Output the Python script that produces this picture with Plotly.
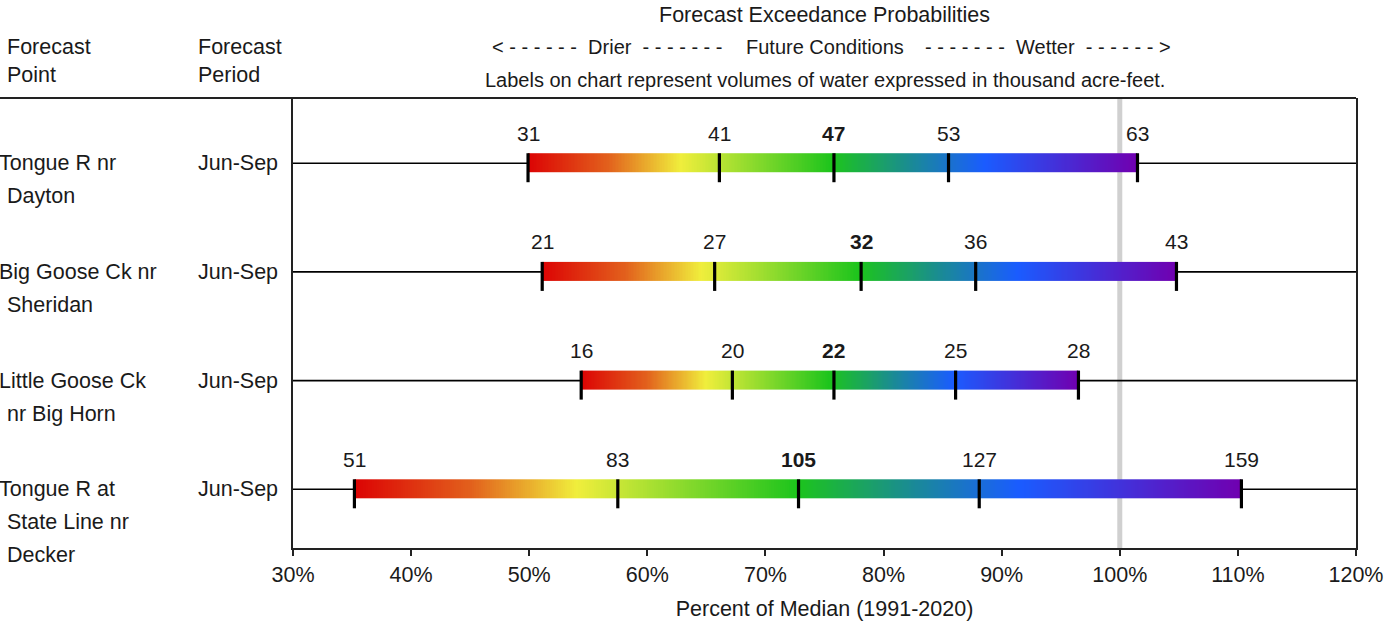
import numpy as np
import plotly.graph_objects as go

# ---------------- data ----------------
point_lines = [["Tongue R nr", "Dayton"],
               ["Big Goose Ck nr", "Sheridan"],
               ["Little Goose Ck", "nr Big Horn"],
               ["Tongue R at", "State Line nr", "Decker"]]
periods = ["Jun-Sep", "Jun-Sep", "Jun-Sep", "Jun-Sep"]

# percent of median at the 90/70/50/30/10 % exceedance levels
pct_90 = [49.9, 51.1, 54.4, 35.2]
pct_70 = [66.1, 65.7, 67.2, 57.5]
pct_50 = [75.8, 78.1, 75.8, 72.8]
pct_30 = [85.5, 87.8, 86.1, 88.1]
pct_10 = [101.5, 104.8, 96.5, 110.3]

# volumes (thousand acre-feet)
vol_90 = [31, 21, 16, 51]
vol_70 = [41, 27, 20, 83]
vol_50 = [47, 32, 22, 105]
vol_30 = [53, 36, 25, 127]
vol_10 = [63, 43, 28, 159]

x_ticks = [30, 40, 50, 60, 70, 80, 90, 100, 110, 120]
x_tick_labels = [f"{v}%" for v in x_ticks]

# ---------------- styling ----------------
FONT = "Liberation Sans, Arial, sans-serif"
TXT = "#1a1a1a"
FS = 21.5
W, H = 1384, 625
ML, MR, MT, MB = 293, 28, 98, 77
PW, PH = W - ML - MR, H - MT - MB
YR = (3.54, -0.6)
UPX = (YR[0] - YR[1]) / PH  # data units per pixel

grad = [[0.0, "#dc0404"], [0.13, "#e2601c"], [0.25, "#f0ee3c"],
        [0.5, "#1cc41c"], [0.63, "#1a8a96"], [0.75, "#1a5cff"],
        [1.0, "#7000b0"]]

fig = go.Figure()

rows = list(range(len(point_lines)))
for r in rows:
    lo, hi = pct_90[r], pct_10[r]
    # baseline outside the bar
    fig.add_trace(go.Scatter(x=[x_ticks[0], lo, None, hi, x_ticks[-1]], y=[r, r, None, r, r],
                             mode="lines", line=dict(color="black", width=1.6),
                             hoverinfo="skip", showlegend=False))
    n = 400
    xe = np.linspace(lo, hi, n + 1)
    fig.add_trace(go.Heatmap(x=xe, y=[r - 10 * UPX, r + 9 * UPX],
                             z=[np.linspace(0, 1, n)], zmin=0, zmax=1,
                             colorscale=grad, showscale=False, hoverinfo="skip"))

fig.add_shape(type="line", x0=100, x1=100, y0=0, y1=1, xref="x", yref="paper",
              line=dict(color="#d0d0d0", width=5), layer="below")

tx, ty = [], []
for r in rows:
    for v in (pct_90[r], pct_70[r], pct_50[r], pct_30[r], pct_10[r]):
        tx += [v, v, None]
        ty += [r - 10 * UPX, r + 19 * UPX, None]
fig.add_trace(go.Scatter(x=tx, y=ty, mode="lines", line=dict(color="black", width=3.2),
                         hoverinfo="skip", showlegend=False))

ann = []
for r in rows:
    pairs = [(pct_90[r], vol_90[r], False), (pct_70[r], vol_70[r], False),
             (pct_50[r], vol_50[r], True), (pct_30[r], vol_30[r], False),
             (pct_10[r], vol_10[r], False)]
    for p, v, b in pairs:
        ann.append(dict(x=p, y=r, xref="x", yref="y", yshift=30, yanchor="middle",
                        text=f"<b>{v}</b>" if b else str(v), showarrow=False,
                        font=dict(size=21, color=TXT, family=FONT)))

def px_x(px):
    return (px - ML) / PW

def px_y(py):
    return (MT + PH - py) / PH

for r in rows:
    for i, line in enumerate(point_lines[r]):
        ann.append(dict(x=px_x(-3 if i == 0 else 5), xref="paper", y=r, yref="y",
                        yshift=-33 * i, text=line, showarrow=False, xanchor="left",
                        yanchor="middle", font=dict(size=FS, color=TXT, family=FONT)))
    ann.append(dict(x=px_x(196), xref="paper", y=r, yref="y", text=periods[r],
                    showarrow=False, xanchor="left", yanchor="middle",
                    font=dict(size=FS, color=TXT, family=FONT)))

hdr = [("Forecast", 5, 47), ("Point", 5, 75), ("Forecast", 196, 47), ("Period", 196, 75)]
for t, x, y in hdr:
    ann.append(dict(x=px_x(x), y=px_y(y), xref="paper", yref="paper", text=t,
                    showarrow=False, xanchor="left", yanchor="middle",
                    font=dict(size=FS, color=TXT, family=FONT)))
NB = "\u00a0"
ann.append(dict(x=0.5, y=px_y(15), xref="paper", yref="paper", yanchor="middle",
                text="Forecast Exceedance Probabilities", showarrow=False,
                font=dict(size=FS, color=TXT, family=FONT)))
left = "<" + (NB + "-") * 6 + NB * 2 + "Drier" + NB + (NB + "-") * 7
right = ("-" + NB) * 7 + NB + "Wetter" + NB * 2 + ("-" + NB) * 6 + ">"
ann.append(dict(x=px_x(725), y=px_y(47), xref="paper", yref="paper", text=left,
                showarrow=False, xanchor="right", yanchor="middle",
                font=dict(size=20, color=TXT, family=FONT)))
ann.append(dict(x=0.5, y=px_y(47), xref="paper", yref="paper",
                text="Future Conditions", showarrow=False, yanchor="middle",
                font=dict(size=20, color=TXT, family=FONT)))
ann.append(dict(x=px_x(923), y=px_y(47), xref="paper", yref="paper", text=right,
                showarrow=False, xanchor="left", yanchor="middle",
                font=dict(size=20, color=TXT, family=FONT)))
ann.append(dict(x=0.5, y=px_y(80), xref="paper", yref="paper", yanchor="middle",
                text="Labels on chart represent volumes of water expressed in thousand acre-feet.",
                showarrow=False, font=dict(size=20, color=TXT, family=FONT)))

fig.add_shape(type="line", x0=px_x(0), x1=1, y0=1, y1=1, xref="paper", yref="paper",
              line=dict(color="#222", width=2))

fig.update_layout(
    width=W, height=H, margin=dict(l=ML, r=MR, t=MT, b=MB, autoexpand=False),
    plot_bgcolor="white", paper_bgcolor="white", showlegend=False,
    annotations=ann,
    xaxis=dict(range=[x_ticks[0], x_ticks[-1]], tickvals=x_ticks, ticktext=x_tick_labels,
               automargin=False,
               showgrid=False, zeroline=False, showline=True, linecolor="#222", linewidth=1.6,
               ticks="outside", ticklen=6, tickwidth=1.6, tickcolor="#222",
               tickfont=dict(size=FS, color=TXT, family=FONT), ticklabelstandoff=0,
               title=dict(text="Percent of Median (1991-2020)", standoff=15,
                          font=dict(size=FS, color=TXT, family=FONT))),
    yaxis=dict(range=list(YR), showgrid=False, zeroline=False, showticklabels=False,
               automargin=False,
               showline=True, mirror=True, linecolor="#222", linewidth=1.6),
)

fig.write_html(
    "out.html",
    config={"displayModeBar": False},
    post_script=("document.documentElement.style.margin='0px';"
                 "document.body.style.margin='0px';"
                 "document.documentElement.style.overflow='hidden';"
                 "document.body.style.overflow='hidden';"),
)
